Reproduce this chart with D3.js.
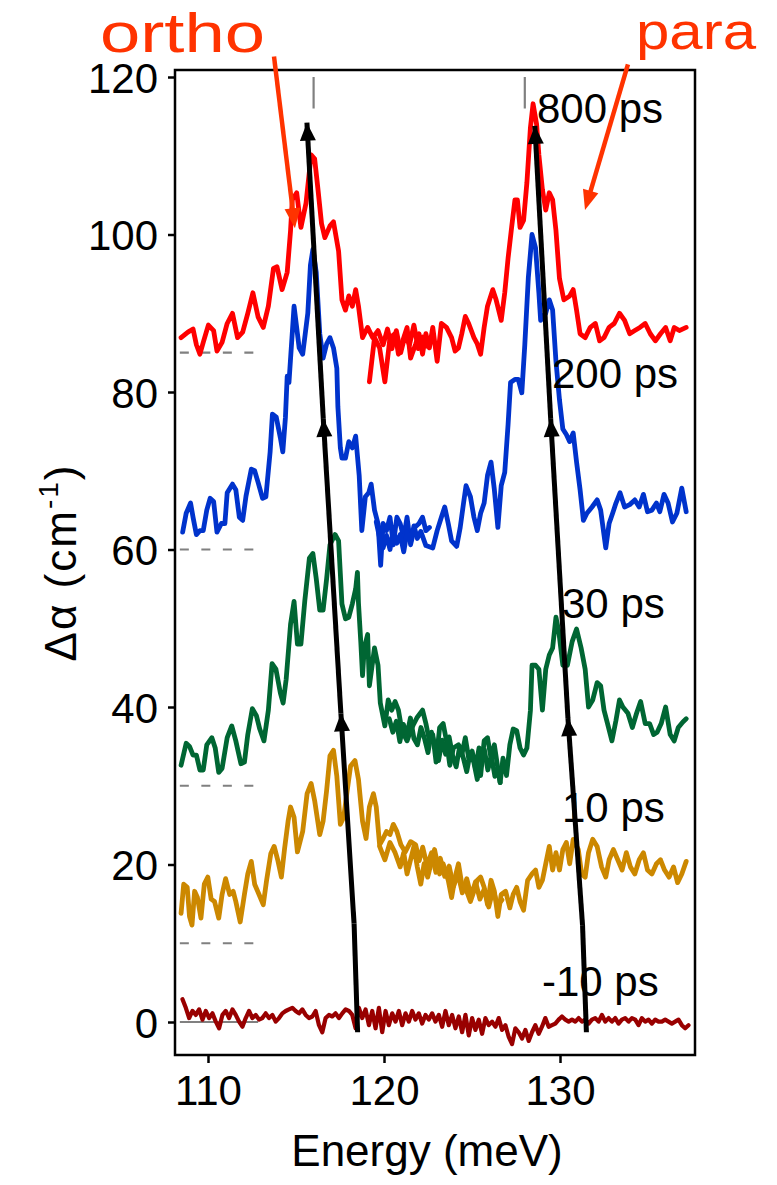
<!DOCTYPE html>
<html><head><meta charset="utf-8">
<script src="https://cdn.jsdelivr.net/npm/d3@7"></script>
<style>body{margin:0;background:#fff} svg{display:block}</style>
</head><body>
<svg id="chart" width="777" height="1185"></svg>
<script>
// ---------------- DATA ----------------
const delays = ["800 ps", "200 ps", "30 ps", "10 ps", "-10 ps"];
const offsets = [85, 60, 30, 10, 0];           // dashed baseline of each trace
const xTicks = [110, 120, 130];
const yTicks = [0, 20, 40, 60, 80, 100, 120];
const peakMarks = [116, 128];                   // ortho / para grey markers

// 800 ps (two scans), [energy meV, dAlpha cm-1]
const red800A = [[108.47,86.9],[108.86,87.6],[109.15,88.0],[109.34,86.0],[109.54,84.8],[109.73,86.3],[110.02,88.5],[110.32,87.8],[110.51,85.2],[110.8,86.3],[111.09,88.7],[111.39,90.0],[111.68,86.9],[111.97,87.6],[112.26,90.0],[112.55,92.6],[112.85,89.5],[113.14,88.2],[113.43,90.9],[113.72,95.7],[113.92,95.9],[114.21,93.0],[114.5,95.2],[114.69,100.5],[114.79,104.4],[115.04,105.3],[115.28,100.9],[115.57,104.0],[115.86,110.1],[116.06,109.6],[116.25,105.7],[116.45,101.4],[116.64,99.6],[116.93,101.1],[117.13,101.6],[117.42,97.9],[117.61,91.7],[117.81,90.4],[118.0,92.2],[118.2,90.9],[118.39,93.0],[118.55,90.9],[118.78,86.9],[119.07,88.2],[119.36,86.9],[119.66,87.8],[119.95,86.0],[120.2,88.0],[120.45,85.5],[120.7,87.8],[120.95,85.0],[121.2,87.2],[121.45,86.0],[121.7,88.5],[121.95,85.5],[122.2,87.0],[122.45,85.8]];
const red800B = [[119.17,81.3],[119.46,86.9],[119.75,85.6],[120.05,81.3],[120.34,86.9],[120.63,87.4],[120.82,84.8],[121.12,86.9],[121.31,88.2],[121.51,84.3],[121.8,86.1],[121.99,87.4],[122.19,84.8],[122.38,87.4],[122.58,85.6],[122.77,88.2],[123.02,83.9],[123.26,88.7],[123.55,88.2],[123.84,86.9],[124.04,85.2],[124.23,85.6],[124.42,87.4],[124.62,89.6],[124.81,88.7],[125.11,86.9],[125.3,86.1],[125.49,84.8],[125.69,88.2],[125.88,90.9],[126.18,93.0],[126.37,91.7],[126.66,89.1],[126.86,92.6],[127.05,97.0],[127.25,100.9],[127.44,104.4],[127.58,104.4],[127.73,100.9],[127.93,101.8],[128.12,106.6],[128.32,113.6],[128.47,116.6],[128.67,114.0],[128.8,110.1],[129.0,105.7],[129.19,103.1],[129.39,105.3],[129.58,104.4],[129.77,100.5],[129.97,94.4],[130.22,91.7],[130.55,92.2],[130.75,93.0],[130.94,90.4],[131.14,87.4],[131.43,86.9],[131.72,88.2],[132.01,88.7],[132.25,86.5],[132.5,86.9],[132.79,88.2],[133.08,88.7],[133.38,90.0],[133.67,89.1],[133.96,87.4],[134.25,87.8],[134.54,88.2],[134.84,88.7],[135.13,87.4],[135.42,86.5],[135.71,87.4],[136.0,88.2],[136.26,86.5],[136.49,88.2],[136.78,87.8],[137.17,88.2]];

// 200 ps
const blue200A = [[108.56,62.2],[108.76,64.6],[109.01,65.9],[109.15,64.1],[109.34,61.9],[109.54,62.4],[109.73,62.4],[109.93,65.0],[110.12,66.5],[110.32,66.1],[110.51,62.2],[110.76,63.3],[110.96,63.3],[111.09,67.2],[111.39,68.3],[111.58,67.6],[111.78,64.1],[111.97,63.7],[112.16,66.8],[112.46,70.2],[112.65,70.0],[112.85,68.5],[113.1,66.5],[113.29,66.7],[113.53,72.4],[113.66,77.2],[113.88,76.8],[114.11,74.2],[114.25,72.4],[114.4,76.8],[114.5,82.0],[114.6,81.2],[114.89,90.9],[115.18,85.6],[115.38,84.8],[115.67,90.0],[115.82,96.1],[115.96,98.1],[116.15,95.2],[116.35,87.4],[116.54,84.3],[116.74,86.1],[116.93,86.9],[117.13,85.6],[117.32,83.0],[117.38,78.1],[117.52,72.9],[117.61,71.6],[117.81,71.6],[118.0,73.7],[118.2,72.9],[118.39,74.4],[118.59,69.4],[118.74,62.4],[118.94,66.7],[119.13,67.2],[119.27,68.3],[119.46,65.0],[119.66,63.3],[119.81,58.0],[119.95,63.3],[120.14,62.4],[120.34,64.1],[120.53,60.6],[120.73,64.1],[120.92,63.3],[121.12,61.5],[121.31,64.1],[121.51,60.6],[121.74,62.8],[121.99,63.3],[122.19,64.1],[122.38,62.4],[122.58,62.8]];
const blue200B = [[119.56,63.5],[119.75,61.5],[119.95,60.2],[120.14,61.8],[120.34,60.0],[120.53,62.5],[120.73,60.8],[120.92,61.9],[121.12,59.7],[121.31,62.2],[121.51,61.0],[121.7,63.0],[121.89,61.4],[122.09,62.3],[122.38,60.5],[122.77,60.2],[123.02,62.4],[123.26,64.1],[123.45,65.4],[123.65,63.3],[123.84,61.1],[124.13,60.4],[124.33,62.8],[124.52,65.9],[124.66,68.1],[124.91,66.7],[125.11,64.1],[125.3,62.4],[125.49,64.6],[125.69,65.9],[125.88,69.4],[126.08,71.1],[126.27,67.6],[126.47,62.8],[126.66,68.1],[126.86,69.8],[127.05,75.9],[127.19,81.2],[127.44,81.6],[127.63,81.6],[127.83,79.9],[128.0,86.0],[128.2,94.5],[128.41,100.0],[128.61,98.3],[128.8,92.6],[128.9,89.1],[129.19,90.0],[129.39,91.7],[129.58,90.4],[129.77,83.9],[129.97,79.0],[130.16,75.3],[130.36,74.6],[130.55,73.7],[130.75,74.8],[130.94,71.1],[131.14,67.6],[131.33,63.7],[131.53,64.6],[131.82,65.4],[132.11,66.3],[132.31,65.0],[132.6,60.2],[132.79,63.3],[132.99,64.6],[133.18,65.9],[133.41,67.2],[133.67,65.4],[133.96,65.7],[134.25,66.3],[134.5,65.4],[134.74,67.0],[134.97,64.8],[135.22,65.0],[135.48,65.9],[135.67,64.8],[135.91,67.0],[136.14,65.9],[136.39,63.5],[136.64,64.6],[136.92,67.8],[137.17,64.8]];

// 30 ps
const green30A = [[108.47,32.6],[108.76,35.4],[108.95,35.0],[109.15,33.9],[109.34,33.9],[109.54,32.0],[109.73,32.0],[109.93,35.2],[110.22,36.1],[110.41,34.8],[110.61,31.7],[110.8,32.2],[111.09,36.1],[111.35,37.6],[111.58,35.7],[111.87,32.8],[112.07,33.0],[112.26,36.5],[112.52,39.8],[112.75,38.9],[112.94,37.2],[113.18,35.7],[113.43,39.6],[113.64,45.5],[113.86,44.8],[114.11,41.8],[114.27,40.5],[114.44,43.5],[114.69,50.5],[114.89,53.4],[115.08,48.0],[115.28,48.0],[115.5,53.5],[115.76,58.9],[115.96,59.5],[116.15,56.3],[116.35,52.3],[116.54,52.3],[116.74,56.3],[116.93,60.6],[117.22,61.9],[117.42,61.1],[117.61,53.1],[117.81,51.2],[118.0,51.4],[118.2,53.1],[118.39,55.0],[118.49,57.1],[118.55,53.2],[118.68,48.3],[118.78,44.0],[118.88,47.5],[119.07,49.2],[119.17,42.7],[119.46,47.5],[119.66,45.3],[119.79,40.5],[120.05,37.6],[120.24,40.9],[120.44,39.6],[120.63,40.7],[120.82,39.6],[121.02,37.0],[121.31,35.7],[121.51,37.0],[121.7,37.9],[121.89,38.7],[122.19,39.6],[122.38,37.9],[122.58,35.7],[122.77,36.5],[122.96,33.0],[123.16,37.4],[123.36,37.9],[123.55,35.7],[123.74,32.6],[123.94,34.8],[124.23,35.2],[124.42,33.9],[124.62,36.1],[124.81,33.5],[125.01,34.4],[125.2,32.2],[125.4,34.8],[125.49,31.3],[125.69,35.7],[125.88,36.1],[126.08,33.5],[126.27,35.2],[126.47,32.2],[126.6,30.4]];
const green30B = [[120.3,38.5],[120.5,36.8],[120.7,38.2],[120.9,35.6],[121.1,37.8],[121.3,36.4],[121.5,38.6],[121.7,36.0],[121.9,35.2],[122.1,37.4],[122.3,36.0],[122.5,34.2],[122.7,36.8],[122.9,35.0],[123.1,33.2],[123.3,35.8],[123.5,34.0],[123.7,36.2],[123.9,33.8],[124.1,32.4],[124.3,35.0],[124.5,33.6],[124.7,31.8],[124.9,34.2],[125.1,33.0],[125.3,30.8],[125.5,33.4],[125.7,34.6],[125.9,32.0],[126.1,33.8],[126.3,31.2],[126.47,32.2],[126.6,30.4],[126.76,33.5],[126.96,31.3],[127.15,35.2],[127.34,37.2],[127.54,37.0],[127.73,34.8],[127.93,33.9],[128.12,34.8],[128.32,39.6],[128.41,45.3],[128.61,45.3],[128.8,44.8],[129.0,39.6],[129.19,44.8],[129.39,46.6],[129.58,47.5],[129.77,51.4],[129.93,49.6],[130.16,45.3],[130.42,45.3],[130.69,48.3],[130.94,49.9],[131.2,47.5],[131.43,44.8],[131.62,40.0],[131.86,40.9],[132.11,43.1],[132.31,42.7],[132.5,39.6],[132.7,37.9],[132.95,35.7],[133.18,38.3],[133.38,40.9],[133.57,40.0],[133.86,39.2],[134.11,37.4],[134.35,39.2],[134.58,40.7],[134.84,37.9],[135.09,37.9],[135.32,36.5],[135.52,36.8],[135.75,37.9],[136.0,40.0],[136.26,36.5],[136.49,35.7],[136.72,37.4],[136.98,38.1],[137.17,38.5]];

// 10 ps
const orange10A = [[108.47,13.8],[108.62,17.5],[108.82,17.1],[108.95,13.4],[109.09,12.3],[109.24,16.6],[109.4,15.8],[109.6,13.2],[109.79,17.5],[109.99,18.4],[110.18,15.6],[110.37,15.3],[110.61,13.2],[110.8,16.2],[111.0,18.2],[111.23,16.2],[111.43,16.6],[111.58,15.3],[111.83,12.7],[112.07,16.2],[112.26,18.8],[112.46,20.4],[112.65,17.5],[112.9,16.2],[113.14,14.9],[113.33,18.0],[113.57,21.4],[113.76,22.3],[113.96,20.6],[114.17,18.4],[114.35,22.0],[114.55,25.5],[114.69,27.3],[114.89,26.0],[115.08,21.6],[115.38,24.2],[115.63,29.0],[115.86,30.3],[116.06,28.1],[116.35,23.8],[116.54,25.5],[116.74,29.4],[116.93,33.8],[117.13,34.5],[117.32,31.2],[117.52,25.1],[117.71,26.0],[117.91,29.4],[118.1,32.5],[118.35,33.2],[118.55,30.8],[118.78,25.5],[118.98,23.3],[119.17,27.3],[119.4,29.0],[119.56,27.3],[119.75,22.5],[119.95,23.3],[120.14,24.2],[120.34,23.8],[120.53,25.1],[120.73,24.2],[120.96,22.5],[121.21,21.6],[121.51,22.9],[121.8,22.5],[122.0,20.5],[122.2,22.2],[122.45,19.8],[122.7,21.5],[122.95,19.0],[123.2,20.8],[123.45,18.5],[123.7,19.8],[123.95,17.2],[124.2,18.9],[124.45,16.4],[124.7,18.2],[124.95,16.0],[125.2,17.8],[125.45,15.6],[125.7,16.9],[125.95,14.6],[126.2,16.8],[126.45,14.8],[126.7,15.5]];
const orange10B = [[119.75,22.3],[120.05,20.6],[120.34,22.8],[120.63,21.5],[120.92,19.7],[121.12,21.5],[121.31,18.8],[121.51,20.6],[121.7,22.3],[121.89,19.7],[122.09,17.5],[122.28,20.1],[122.48,18.4],[122.67,20.1],[122.87,21.9],[123.16,18.8],[123.36,20.1],[123.65,18.0],[123.84,15.8],[124.04,18.4],[124.23,20.1],[124.42,17.5],[124.62,17.1],[124.91,15.3],[125.11,16.6],[125.3,18.0],[125.49,18.4],[125.69,17.1],[125.88,14.9],[126.08,18.0],[126.27,16.6],[126.47,13.4],[126.66,16.2],[126.91,16.6],[127.15,14.5],[127.34,16.2],[127.54,17.1],[127.73,15.3],[127.93,14.2],[128.16,18.0],[128.41,18.8],[128.61,19.3],[128.8,17.1],[129.0,18.0],[129.19,20.1],[129.39,22.3],[129.58,19.3],[129.77,21.5],[129.97,19.3],[130.16,21.9],[130.36,22.8],[130.55,20.1],[130.75,23.2],[131.04,21.9],[131.23,18.8],[131.43,18.4],[131.62,21.5],[131.86,23.2],[132.11,22.3],[132.36,19.7],[132.6,18.4],[132.79,20.6],[133.03,21.9],[133.28,20.6],[133.53,19.3],[133.77,21.5],[134.0,19.7],[134.25,18.8],[134.5,20.6],[134.74,21.5],[134.97,19.3],[135.22,18.8],[135.48,20.1],[135.71,20.6],[135.94,19.3],[136.2,18.4],[136.45,19.7],[136.68,17.7],[136.92,18.8],[137.17,20.4]];

// -10 ps : one scan on a uniform energy grid from minus10Start to minus10End
const minus10Start = 108.55, minus10End = 137.3;
const minus10 = [2.9,1.8,0.5,1.4,0.9,1.6,0.3,1.4,0.5,1.1,0.05,-0.8,0.9,1.4,0.5,1.6,0.9,0.05,-0.6,0.5,1.4,0.5,0.9,0.3,0.5,1.1,0.5,0.9,0.05,0.5,1.1,1.4,1.6,1.8,1.4,1.1,1.6,0.9,0.5,0.7,1.4,-0.4,-1.3,0.5,0.9,0.7,1.1,0.5,1.1,1.6,1.4,0.9,-0.8,1.8,0.5,1.6,-0.4,1.4,-0.8,1.8,-1.3,1.4,-0.4,1.1,0.05,1.4,-0.4,1.1,0.05,1.4,0.3,1.1,-0.2,0.9,0.3,1.1,0.05,0.9,-0.6,1.4,-0.4,0.9,-0.8,0.7,-1.3,0.9,-1.7,0.5,-1.0,0.3,-1.5,0.5,-0.4,0.05,-0.6,0.5,-1.0,-0.4,-1.9,-2.8,-0.8,-1.3,-2.1,-1.0,-2.4,-1.3,-0.4,-1.5,-0.6,0.5,-0.6,-0.4,-0.2,0.3,0.7,0.3,0.05,0.3,0.05,0.5,0.05,0.3,-0.2,0.3,0.5,0.05,0.9,0.05,0.5,0.05,0.5,-0.2,0.3,0.5,0.05,0.5,0.3,-0.4,0.5,0.05,0.3,-0.2,0.3,0.05,0.05,0.3,0.05,-0.2,0.05,0.3,-0.4,-0.8,-0.4];

// peak-shift guide arrows (energy, dAlpha) from -10 ps up to 800 ps
const orthoShift = [[118.5,-1.3],[118.3,12.5],[117.55,39.2],[116.55,76.6],[115.62,114.2]];
const paraShift  = [[131.5,-1.3],[131.28,12.3],[130.45,38.6],[129.47,76.6],[128.57,113.8]];

// ---------------- CHART ----------------
const svg = d3.select("#chart");
const FONT = "'Liberation Sans', Arial, Helvetica, sans-serif";
const L = 175, R = 695, T = 70, B = 1055;
const x = d3.scaleLinear().domain([108.125, 137.67]).range([L, R]);
const y = d3.scaleLinear().domain([-4.19, 120.89]).range([B, T]);

const colors = ["#ff0000", "#0033cc", "#006633", "#cc8800", "#990000"];
const minus10Pts = minus10.map((v, i) => [minus10Start + i * (minus10End - minus10Start) / (minus10.length - 1), v]);
const scans = [[red800A, red800B], [blue200A, blue200B], [green30A, green30B], [orange10A, orange10B], [minus10Pts]];

// dashed baselines
offsets.forEach((o, i) => {
  svg.append("line")
    .attr("x1", x(108.4)).attr("x2", x(112.85))
    .attr("y1", y(o)).attr("y2", y(o))
    .attr("stroke", "#808080").attr("stroke-width", 2.2)
    .attr("stroke-dasharray", i === 4 ? null : "9,12.5");
});

// grey peak markers at top
peakMarks.forEach(e => {
  svg.append("line").attr("x1", x(e)).attr("x2", x(e))
    .attr("y1", y(120)).attr("y2", y(116))
    .attr("stroke", "#808080").attr("stroke-width", 2.2);
});

// spectra (bottom first)
const line = d3.line().x(d => x(d[0])).y(d => y(d[1]));
for (let i = scans.length - 1; i >= 0; i--) {
  scans[i].forEach(seg => {
    svg.append("path").datum(seg).attr("d", line)
      .attr("fill", "none").attr("stroke", colors[i])
      .attr("stroke-width", i === 4 ? 4.2 : 4.8)
      .attr("stroke-linejoin", "round").attr("stroke-linecap", "round");
  });
}

// delay labels
const labelPos = [[537, 123], [552, 388], [562, 618], [562, 822], [542, 996]];
delays.forEach((t, i) => {
  svg.append("text").attr("x", labelPos[i][0]).attr("y", labelPos[i][1])
    .attr("font-family", FONT).attr("font-size", 42).attr("fill", "#000").text(t);
});

// black shift arrows
function arrowHead(g, x1, y1, x2, y2, len, half, color) {
  const a = Math.atan2(y2 - y1, x2 - x1);
  const bx = x2 - len * Math.cos(a), by = y2 - len * Math.sin(a);
  const px = -Math.sin(a) * half, py = Math.cos(a) * half;
  g.append("path").attr("d", `M${x2},${y2}L${bx + px},${by + py}L${bx - px},${by - py}Z`).attr("fill", color);
}
[orthoShift, paraShift].forEach(arr => {
  const g = svg.append("g");
  for (let k = 0; k < arr.length - 1; k++) {
    const x1 = x(arr[k][0]), y1 = y(arr[k][1]), x2 = x(arr[k + 1][0]), y2 = y(arr[k + 1][1]);
    g.append("line").attr("x1", x1).attr("y1", y1).attr("x2", x2).attr("y2", y2)
      .attr("stroke", "#000").attr("stroke-width", 5).attr("stroke-linecap", "butt");
    if (k >= 1) arrowHead(g, x1, y1, x2, y2, 18, 8, "#000");
  }
});

// axes box
svg.append("rect").attr("x", L).attr("y", T).attr("width", R - L).attr("height", B - T)
  .attr("fill", "none").attr("stroke", "#000").attr("stroke-width", 2.5);

const xAxis = svg.append("g").attr("transform", `translate(0,${B})`)
  .call(d3.axisBottom(x).tickValues(xTicks).tickSize(8).tickPadding(12).tickFormat(d3.format("d")));
const yAxis = svg.append("g").attr("transform", `translate(${L},0)`)
  .call(d3.axisLeft(y).tickValues(yTicks).tickSize(7).tickPadding(10).tickFormat(d3.format("d")));
[xAxis, yAxis].forEach(a => {
  a.select(".domain").remove();
  a.selectAll(".tick line").attr("stroke", "#000").attr("stroke-width", 2.5);
  a.selectAll(".tick text").attr("font-family", FONT).attr("font-size", 42).attr("fill", "#000");
});
yAxis.selectAll(".tick text").attr("dy", "0.36em");

// axis titles
svg.append("text").attr("x", (L + R) / 2 - 8).attr("y", 1166).attr("text-anchor", "middle")
  .attr("font-family", FONT).attr("font-size", 44).text("Energy (meV)");
const yt = svg.append("text").attr("transform", `translate(76,${(T + B) / 2}) rotate(-90)`)
  .attr("text-anchor", "middle").attr("font-family", FONT).attr("font-size", 44)
  .attr("letter-spacing", 2);
yt.append("tspan").text("\u0394\u03b1 (cm");
yt.append("tspan").attr("font-size", 28).attr("dy", -18).text("-1");
yt.append("tspan").attr("dy", 18).text(")");

// ortho / para annotations
const ann = "#ff3300";
svg.append("text").attr("x", 100).attr("y", 52).attr("font-family", FONT).attr("font-size", 56)
  .attr("textLength", 165).attr("lengthAdjust", "spacingAndGlyphs").attr("fill", ann).text("ortho");
svg.append("text").attr("x", 636).attr("y", 49).attr("font-family", FONT).attr("font-size", 52)
  .attr("textLength", 120).attr("lengthAdjust", "spacingAndGlyphs").attr("fill", ann).text("para");
[[[113.75, 122.6], [114.94, 100.8]], [[133.86, 121.6], [131.42, 103.1]]].forEach(p => {
  const x1 = x(p[0][0]), y1 = y(p[0][1]), x2 = x(p[1][0]), y2 = y(p[1][1]);
  const a = Math.atan2(y2 - y1, x2 - x1);
  svg.append("line").attr("x1", x1).attr("y1", y1)
    .attr("x2", x2 - 14 * Math.cos(a)).attr("y2", y2 - 14 * Math.sin(a))
    .attr("stroke", ann).attr("stroke-width", 4.5);
  arrowHead(svg, x1, y1, x2, y2, 20, 8, ann);
});
</script>
</body></html>
